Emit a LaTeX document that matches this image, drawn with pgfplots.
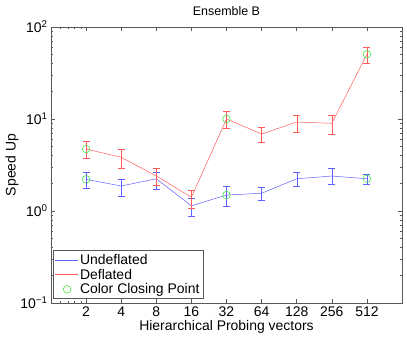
\documentclass[border=0pt]{standalone}
\usepackage{pgfplots}
\usepackage{pgfplotstable}
\pgfplotsset{compat=1.18}
\usepackage{fontspec}
\setmainfont{Liberation Sans}

\definecolor{ublue}{RGB}{95,95,255}
\definecolor{dred}{RGB}{255,90,90}
\definecolor{cgreen}{RGB}{40,230,40}

\pgfplotsset{
    bluelegend/.style={legend image code/.code={\draw[ublue, line width=0.5pt] (0cm,0cm) -- (0.8cm,0cm);}},
    redlegend/.style={legend image code/.code={\draw[dred, line width=0.5pt] (0cm,0cm) -- (0.8cm,0cm);}},
    greenlegend/.style={legend image code/.code={\draw[cgreen, line width=0.5pt] (0.42cm,0cm) circle (3.8bp);}},
}

% x = position of 2,4,...,512; y = speed up; ep/em = upper/lower error
\pgfplotstableread{
x y ep em
1 2.21 0.40 0.43
2 1.87 0.32 0.41
3 2.24 0.41 0.53
4 1.14 0.23 0.27
5 1.49 0.35 0.35
6 1.56 0.25 0.24
7 2.24 0.37 0.40
8 2.40 0.48 0.47
9 2.24 0.30 0.29
}\undeflated

\pgfplotstableread{
x y ep em
1 4.72 0.95 0.98
2 3.83 0.85 0.90
3 2.40 0.48 0.48
4 1.41 0.28 0.33
5 10.0 2.10 2.10
6 6.87 1.23 1.29
7 9.27 1.73 2.05
8 8.98 1.92 2.16
9 50.5 9.50 10.2
}\deflated

\begin{document}
\begin{tikzpicture}
\begin{axis}[
    scale only axis,
    width=351bp, height=276bp,
    ymode=log,
    xmin=0, xmax=10, ymin=0.1, ymax=100,
    xtick={1,...,9},
    xticklabels={2,4,8,16,32,64,128,256,512},
    minor xtick={0.26,0.48,0.66,0.85},
    ytick={0.1,1,10,100},
    yticklabels={10\textsuperscript{−1},10\textsuperscript{0},10\textsuperscript{1},10\textsuperscript{2}},
    minor ytick={0.2,0.3,0.4,0.5,0.6,0.7,0.8,0.9,2,3,4,5,6,7,8,9,20,30,40,50,60,70,80,90},
    tick align=inside,
    major tick length=4bp, minor tick length=2bp,
    axis line style={black!65, line width=0.8pt},
    tick style={black!65, line width=0.5pt},
    tick label style={font=\fontsize{14}{16}\selectfont},
    label style={font=\fontsize{14}{16}\selectfont},
    title={Ensemble B},
    title style={font=\fontsize{12.5}{14}\selectfont, yshift=2bp},
    xlabel={Hierarchical Probing vectors},
    ylabel={Speed Up},
    xlabel style={yshift=3bp},
    ylabel style={yshift=-5bp},
    legend cell align=left,
    legend style={at={(axis description cs:0,0)}, anchor=south west,
        xshift=2bp, yshift=4bp, draw=black!65, line width=0.8pt,
        font=\fontsize{14}{16}\selectfont, inner sep=1.5bp, row sep=-1bp},
    error bars/y dir=both,
    error bars/y explicit,
    error bars/error mark options={rotate=90, mark size=3.5bp, line width=0.5pt},
]
\addplot[ublue, line width=0.5pt, mark=none, bluelegend]
    table[x=x, y=y, y error plus=ep, y error minus=em] {\undeflated};
\addlegendentry{Undeflated}
\addplot[dred, line width=0.5pt, mark=none, redlegend]
    table[x=x, y=y, y error plus=ep, y error minus=em] {\deflated};
\addlegendentry{Deflated}
\addplot[cgreen, only marks, mark=o, mark size=3.8bp, line width=0.5pt, greenlegend]
    coordinates {(1,2.21) (5,1.49) (9,2.24) (1,4.72) (5,10.0) (9,50.5)};
\addlegendentry{Color Closing Point}
\end{axis}
\pgfresetboundingbox
\path (current axis.south west) ++(-51bp,-35bp) rectangle ++(407bp,338bp);
\end{tikzpicture}
\end{document}
